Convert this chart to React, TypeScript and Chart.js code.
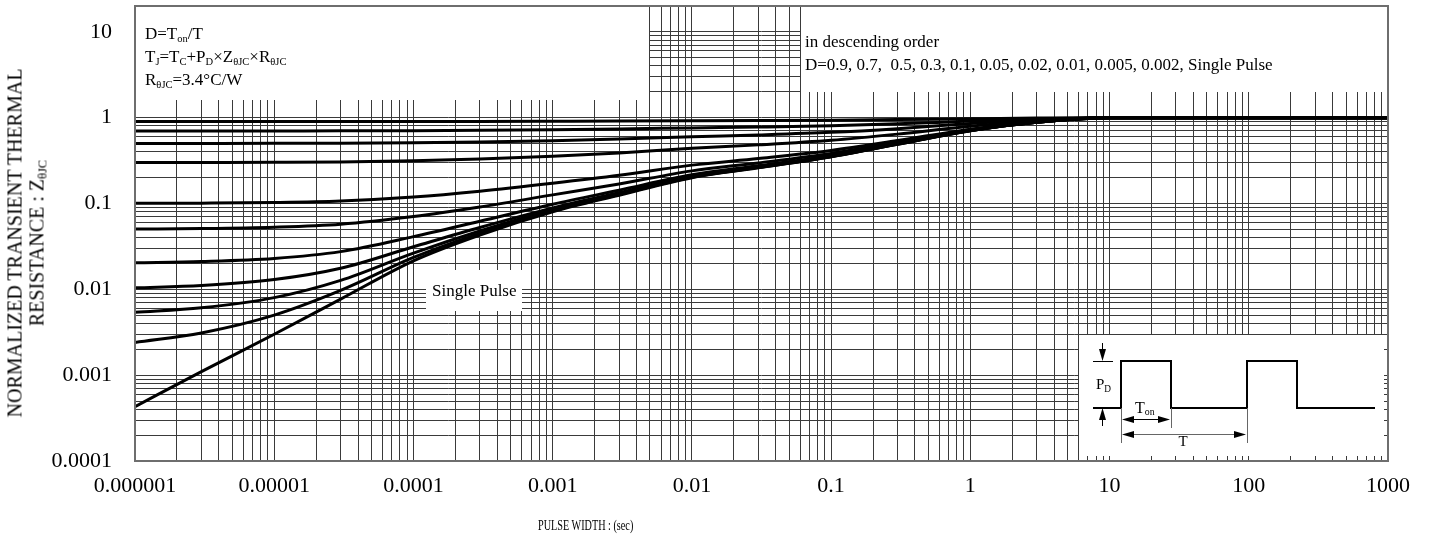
import React, { useEffect, useRef } from 'react';
import { Chart, registerables } from 'chart.js';

Chart.register(...registerables);

// Pulse width sample points (s)
const pulseWidth = [1e-6, 3e-6, 1e-5, 3e-5, 1e-4, 3e-4, 1e-3, 3e-3, 1e-2, 3e-2, 0.1, 0.3, 1, 3, 10, 100, 1000];

// Normalized transient thermal resistance for each duty cycle
const zD09 = [0.900, 0.900, 0.900, 0.901, 0.902, 0.904, 0.908, 0.913, 0.920, 0.926, 0.935, 0.949, 0.971, 0.989, 1.0, 1.0, 1.0];
const zD07 = [0.700, 0.700, 0.701, 0.702, 0.706, 0.713, 0.724, 0.738, 0.760, 0.778, 0.805, 0.847, 0.912, 0.966, 1.0, 1.0, 1.0];
const zD05 = [0.500, 0.501, 0.502, 0.504, 0.511, 0.522, 0.540, 0.563, 0.600, 0.630, 0.675, 0.745, 0.853, 0.943, 1.0, 1.0, 1.0];
const zD03 = [0.300, 0.301, 0.302, 0.305, 0.315, 0.330, 0.356, 0.388, 0.440, 0.482, 0.545, 0.643, 0.794, 0.920, 1.0, 1.0, 1.0];
const zD01 = [0.1004, 0.101, 0.1027, 0.1069, 0.119, 0.139, 0.172, 0.213, 0.280, 0.334, 0.415, 0.541, 0.735, 0.897, 1.0, 1.0, 1.0];
const zD005 = [0.0504, 0.051, 0.0529, 0.0573, 0.0704, 0.0909, 0.126, 0.169, 0.240, 0.297, 0.383, 0.516, 0.720, 0.891, 1.0, 1.0, 1.0];
const zD002 = [0.0204, 0.0211, 0.0229, 0.0275, 0.0411, 0.0621, 0.098, 0.143, 0.216, 0.275, 0.363, 0.500, 0.711, 0.887, 1.0, 1.0, 1.0];
const zD001 = [0.0104, 0.0111, 0.0130, 0.0176, 0.0313, 0.0526, 0.089, 0.134, 0.208, 0.267, 0.357, 0.495, 0.708, 0.886, 1.0, 1.0, 1.0];
const zD0005 = [0.0054, 0.0061, 0.0080, 0.0127, 0.0264, 0.0478, 0.0846, 0.129, 0.204, 0.264, 0.353, 0.493, 0.707, 0.886, 1.0, 1.0, 1.0];
const zD0002 = [0.0024, 0.0031, 0.0050, 0.0097, 0.0235, 0.0449, 0.0820, 0.127, 0.202, 0.262, 0.351, 0.491, 0.706, 0.885, 1.0, 1.0, 1.0];
const zSingle = [0.00043, 0.0011, 0.0030, 0.0077, 0.0215, 0.043, 0.080, 0.125, 0.200, 0.260, 0.350, 0.490, 0.705, 0.885, 1.0, 1.0, 1.0];

const seriesNames = ['D=0.9', 'D=0.7', 'D=0.5', 'D=0.3', 'D=0.1', 'D=0.05', 'D=0.02', 'D=0.01', 'D=0.005', 'D=0.002', 'Single Pulse'];
const seriesValues = [zD09, zD07, zD05, zD03, zD01, zD005, zD002, zD001, zD0005, zD0002, zSingle];

// Axis decades and their labels
const xMajors = [1e-6, 1e-5, 1e-4, 1e-3, 1e-2, 1e-1, 1, 10, 100, 1000];
const xTickLabels = ['0.000001', '0.00001', '0.0001', '0.001', '0.01', '0.1', '1', '10', '100', '1000'];
const yMajors = [1e-4, 1e-3, 1e-2, 1e-1, 1, 10];
const yTickLabels = ['0.0001', '0.001', '0.01', '0.1', '1', '10'];

const GRID = '#3a3a3a';
const FONT = '"Liberation Serif", "Times New Roman", serif';

// 1..9 x 10^n grid values between the first and last decade
function gridValues(majors: number[]): number[] {
  const out: number[] = [];
  majors.forEach((m, i) => {
    if (i === majors.length - 1) {
      out.push(m);
      return;
    }
    for (let k = 1; k <= 9; k++) out.push(+(m * k).toPrecision(6));
  });
  return out;
}

const xGrid = gridValues(xMajors);
const yGrid = gridValues(yMajors);

function labelFor(majors: number[], labels: string[]) {
  return (v: number) => {
    const i = majors.findIndex((m) => Math.abs(Math.log10(m) - Math.log10(v)) < 1e-6);
    return i >= 0 ? labels[i] : '';
  };
}

function arrowHead(ctx: CanvasRenderingContext2D, tx: number, ty: number, dx: number, dy: number) {
  const L = 12;
  const W = 3.5;
  const bx = tx - dx * L;
  const by = ty - dy * L;
  ctx.beginPath();
  ctx.moveTo(tx, ty);
  ctx.lineTo(bx - dy * W, by + dx * W);
  ctx.lineTo(bx + dy * W, by - dx * W);
  ctx.closePath();
  ctx.fill();
}

function seg(ctx: CanvasRenderingContext2D, x0: number, y0: number, x1: number, y1: number) {
  ctx.beginPath();
  ctx.moveTo(x0, y0);
  ctx.lineTo(x1, y1);
  ctx.stroke();
}

// White panels for the notes and the pulse sketch, plus the sketch itself
const panelsPlugin = {
  id: 'panels',
  beforeDatasetsDraw(chart: any) {
    const { ctx, chartArea: a, scales } = chart;
    const xs = scales.x;
    const ys = scales.y;
    const fx = (v: number) => Math.floor(xs.getPixelForValue(v));
    const fy = (v: number) => Math.floor(ys.getPixelForValue(v));
    const fill = (x0: number, y0: number, x1: number, y1: number) => ctx.fillRect(x0, y0, x1 - x0, y1 - y0);

    ctx.save();
    ctx.fillStyle = '#fff';
    fill(a.left, a.top, fx(0.005), fy(1.6));
    fill(fx(0.06) + 1, a.top, a.right, fy(2) + 1);
    fill(fx(1.25e-4), fy(0.0165), fx(6.1e-4), fy(0.0055));
    const ix = fx(6) + 1;
    const iy = fy(0.003) + 1;
    fill(ix, iy, a.right, a.bottom);

    // short inner ticks along the edges of the sketch panel
    ctx.strokeStyle = GRID;
    ctx.lineWidth = 1;
    xGrid.filter((v) => v > 6 && v < 1000).forEach((v) => {
      const p = fx(v) + 0.5;
      seg(ctx, p, a.bottom - 5, p, a.bottom);
    });
    yGrid.filter((v) => v > 1e-4 && v < 0.003).forEach((v) => {
      const p = fy(v) + 0.5;
      seg(ctx, a.right - 4, p, a.right, p);
    });

    // pulse train sketch
    const low = iy + 73;
    const high = iy + 26;
    const X = (d: number) => ix + d;
    ctx.strokeStyle = '#000';
    ctx.lineWidth = 2;
    ctx.beginPath();
    ctx.moveTo(X(14), low);
    ctx.lineTo(X(42), low);
    ctx.lineTo(X(42), high);
    ctx.lineTo(X(92), high);
    ctx.lineTo(X(92), low);
    ctx.lineTo(X(168), low);
    ctx.lineTo(X(168), high);
    ctx.lineTo(X(218), high);
    ctx.lineTo(X(218), low);
    ctx.lineTo(X(296), low);
    ctx.stroke();

    ctx.fillStyle = '#000';
    ctx.lineWidth = 1;
    // P_D marker
    seg(ctx, X(14), high + 0.5, X(34), high + 0.5);
    seg(ctx, X(23) + 0.5, iy + 8, X(23) + 0.5, high - 8);
    arrowHead(ctx, X(23) + 0.5, high, 0, 1);
    seg(ctx, X(23) + 0.5, iy + 91, X(23) + 0.5, low + 8);
    arrowHead(ctx, X(23) + 0.5, low, 0, -1);

    // T_on and T dimensions
    ctx.strokeStyle = '#666';
    seg(ctx, X(42) + 0.5, low, X(42) + 0.5, iy + 108);
    seg(ctx, X(92) + 0.5, low, X(92) + 0.5, iy + 93);
    seg(ctx, X(168) + 0.5, low, X(168) + 0.5, iy + 108);
    ctx.strokeStyle = '#000';
    const ty1 = iy + 84.5;
    seg(ctx, X(50), ty1, X(84), ty1);
    arrowHead(ctx, X(43), ty1, -1, 0);
    arrowHead(ctx, X(91), ty1, 1, 0);
    const ty2 = iy + 99.5;
    ctx.strokeStyle = '#666';
    seg(ctx, X(50), ty2, X(160), ty2);
    arrowHead(ctx, X(43), ty2, -1, 0);
    arrowHead(ctx, X(167), ty2, 1, 0);
    ctx.restore();
  },
  afterDatasetsDraw(chart: any) {
    const { ctx, chartArea: a } = chart;
    ctx.save();
    ctx.strokeStyle = '#6e6e6e';
    ctx.lineWidth = 2;
    ctx.strokeRect(a.left, a.top, a.right - a.left, a.bottom - a.top);
    ctx.restore();
  },
};

const Sub = ({ children }: { children: React.ReactNode }) => (
  <span style={{ fontSize: '0.62em', position: 'relative', top: '0.28em' }}>{children}</span>
);

function Txt(props: { x: number; base: number; size: number; center?: boolean; children: React.ReactNode }) {
  const { x, base, size, center, children } = props;
  return (
    <div
      style={{
        position: 'absolute',
        left: x,
        top: base - 0.8375 * size,
        fontSize: size,
        lineHeight: 1,
        whiteSpace: 'pre',
        transform: center ? 'translateX(-50%)' : undefined,
      }}
    >
      {children}
    </div>
  );
}

export default function App() {
  const canvasRef = useRef<HTMLCanvasElement | null>(null);

  useEffect(() => {
    document.body.style.margin = '0';
    const canvas = canvasRef.current;
    if (!canvas) return;

    const datasets = seriesValues.map((vals, i) => ({
      label: seriesNames[i],
      data: pulseWidth.map((t, j) => ({ x: t, y: vals[j] })),
      borderColor: '#000',
      borderWidth: 3,
      pointRadius: 0,
      fill: false,
      cubicInterpolationMode: 'monotone' as const,
    }));

    const chart = new Chart(canvas, {
      type: 'line',
      data: { datasets },
      plugins: [panelsPlugin],
      options: {
        responsive: false,
        animation: false,
        events: [],
        layout: { padding: { left: 0, right: 42, top: 6, bottom: 0 } },
        plugins: { legend: { display: false }, tooltip: { enabled: false } },
        scales: {
          x: {
            type: 'logarithmic',
            min: 1e-6,
            max: 1000,
            bounds: 'data',
            afterBuildTicks: (s: any) => {
              s.ticks = xGrid.map((v) => ({ value: v }));
            },
            afterFit: (s: any) => {
              s.height = 79;
              s.paddingLeft = 0;
              s.paddingRight = 0;
            },
            grid: { color: GRID, lineWidth: 1, drawTicks: false },
            border: { display: false },
            ticks: {
              autoSkip: false,
              maxRotation: 0,
              minRotation: 0,
              padding: 12,
              color: '#000',
              font: { family: FONT, size: 22 },
              callback: (v: any) => labelFor(xMajors, xTickLabels)(Number(v)),
            },
          },
          y: {
            type: 'logarithmic',
            min: 1e-4,
            max: 20,
            bounds: 'data',
            afterBuildTicks: (s: any) => {
              s.ticks = yGrid.map((v) => ({ value: v }));
            },
            afterFit: (s: any) => {
              s.width = 135;
              s.paddingTop = 0;
              s.paddingBottom = 0;
            },
            grid: { color: GRID, lineWidth: 1, drawTicks: false },
            border: { display: false },
            ticks: {
              autoSkip: false,
              padding: 23,
              color: '#000',
              font: { family: FONT, size: 22 },
              callback: (v: any) => labelFor(yMajors, yTickLabels)(Number(v)),
            },
          },
        },
      } as any,
    });

    return () => chart.destroy();
  }, []);

  return (
    <div style={{ position: 'relative', width: 1430, height: 540, fontFamily: FONT, color: '#000', overflow: 'hidden' }}>
      <canvas ref={canvasRef} width={1430} height={540} style={{ display: 'block' }} />

      {/* duty cycle notes */}
      <Txt x={145} base={39} size={17}>
        D=T<Sub>on</Sub>/T
      </Txt>
      <Txt x={145} base={62} size={17}>
        T<Sub>J</Sub>=T<Sub>C</Sub>+P<Sub>D</Sub>×Z<Sub>θJC</Sub>×R<Sub>θJC</Sub>
      </Txt>
      <Txt x={145} base={85} size={17}>
        R<Sub>θJC</Sub>=3.4°C/W
      </Txt>
      <Txt x={805} base={47} size={17}>
        in descending order
      </Txt>
      <Txt x={805} base={70} size={17}>
        {'D=0.9, 0.7,  0.5, 0.3, 0.1, 0.05, 0.02, 0.01, 0.005, 0.002, Single Pulse'}
      </Txt>
      <Txt x={432} base={296.5} size={17}>
        Single Pulse
      </Txt>

      {/* pulse sketch labels */}
      <Txt x={1096} base={390} size={15}>
        P<Sub>D</Sub>
      </Txt>
      <Txt x={1135} base={413} size={16}>
        T<Sub>on</Sub>
      </Txt>
      <Txt x={1183} base={447} size={15} center>
        T
      </Txt>

      {/* axis titles */}
      <div
        style={{
          position: 'absolute',
          left: 27,
          top: 243,
          transform: 'translate(-50%, -50%) rotate(-90deg)',
          fontSize: 20,
          lineHeight: '22px',
          whiteSpace: 'nowrap',
          textAlign: 'center',
        }}
      >
        <div>NORMALIZED TRANSIENT THERMAL</div>
        <div>
          RESISTANCE : Z<Sub>θJC</Sub>
        </div>
      </div>
      <div
        style={{
          position: 'absolute',
          left: 538,
          top: 531 - 0.8375 * 15,
          fontSize: 15,
          lineHeight: 1,
          whiteSpace: 'nowrap',
          transform: 'scaleX(0.68)',
          transformOrigin: 'left top',
        }}
      >
        PULSE WIDTH : (sec)
      </div>
    </div>
  );
}
